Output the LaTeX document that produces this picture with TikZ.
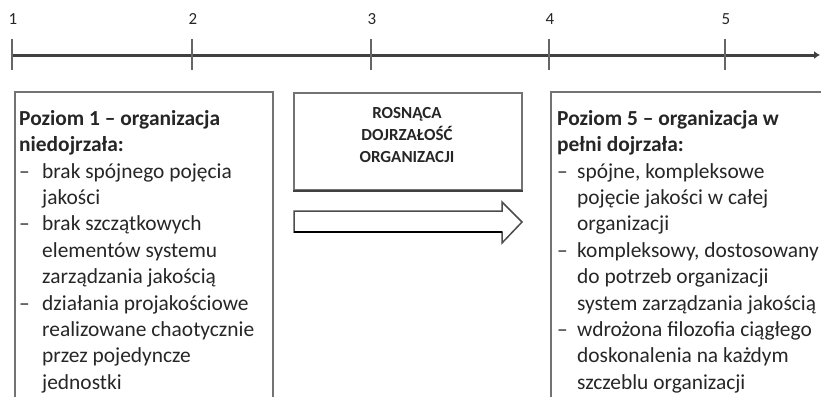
\documentclass[tikz,border=0pt]{standalone}
\usepackage{fontspec}
\setmainfont{Carlito}
\usetikzlibrary{arrows.meta}
\newcommand\ldsh{\makebox[23bp][l]{–}}
\newcommand\lind{\hspace*{23bp}}
\newcommand\rdsh{\makebox[20bp][l]{–}}
\newcommand\rind{\hspace*{20bp}}
\newcommand\hdr{\fontsize{21.5}{26.5}\selectfont\bfseries}
\tikzset{
  axisline/.style={line width=3bp, draw=black!75},
  tickline/.style={line width=1.5bp, draw=black!60},
  ticklabel/.style={font=\fontsize{17}{20}\selectfont, inner sep=0pt, text=black!85},
  boxline/.style={line width=2bp, draw=black!55},
  boxtext/.style={font=\fontsize{21.5}{26.5}\selectfont, align=left, inner sep=0pt, anchor=north west, text=black!85},
  midtext/.style={font=\bfseries\fontsize{17}{22}\selectfont, align=center, inner sep=0pt, text=black!85},
}
\begin{document}
\begin{tikzpicture}[x=1bp,y=-1bp]
\useasboundingbox (0,0) rectangle (821,396);
% timeline
\coordinate (tstart) at (12,55);
\coordinate (tend) at (820,55);
\draw[axisline, -{Latex[length=6bp,width=8bp]}] (tstart) -- (tend);
\foreach \i/\x in {1/12,2/192,3/371,4/549,5/725}{
  \coordinate (tt\i) at (\x,39);
  \coordinate (tb\i) at (\x,70);
  \draw[tickline] (tt\i) -- (tb\i);
  \node[ticklabel] (lab\i) at (\x+1,19) {\i};
}
% left box
\coordinate (l1) at (15,410);
\coordinate (l2) at (15,92);
\coordinate (l3) at (273,92);
\coordinate (l4) at (273,410);
\draw[boxline] (l1) -- (l2) -- (l3) -- (l4);
\node[boxtext] (ltext) at (19,110) {{\hdr Poziom 1 – organizacja}\\
{\hdr niedojrzała:}\\
\ldsh brak spójnego pojęcia\\
\lind jakości\\
\ldsh brak szczątkowych\\
\lind elementów systemu\\
\lind zarządzania jakością\\
\ldsh działania projakościowe\\
\lind realizowane chaotycznie\\
\lind przez pojedyncze\\
\lind jednostki};
% middle box
\node[boxline, draw, minimum width=228bp, minimum height=97bp, inner sep=0pt] (mbox) at (408,141.5) {};
\draw[line width=2bp, draw=black!75] (mbox.south west) -- (mbox.south east);
\node[midtext] (mtext) at (407,135) {ROSNĄCA\\DOJRZAŁOŚĆ\\ORGANIZACJI};
% block arrow
\coordinate (a1) at (294,211);
\coordinate (a2) at (502,211);
\coordinate (a3) at (502,202);
\coordinate (a4) at (522,222);
\coordinate (a5) at (502,243);
\coordinate (a6) at (502,232);
\coordinate (a7) at (294,232);
\draw[line width=1.5bp, draw=black!70, fill=white] (a1) -- (a2) -- (a3) -- (a4) -- (a5) -- (a6) -- (a7) -- cycle;
\draw[line width=2bp, draw=black] (a7) -- (a6);
% right box
\coordinate (r1) at (551,410);
\coordinate (r2) at (551,92);
\coordinate (r3) at (830,92);
\draw[boxline] (r1) -- (r2) -- (r3);
\node[boxtext] (rtext) at (557,110) {{\hdr Poziom 5 – organizacja w}\\
{\hdr pełni dojrzała:}\\
\rdsh spójne, kompleksowe\\
\rind pojęcie jakości w całej\\
\rind organizacji\\
\rdsh kompleksowy, dostosowany\\
\rind do potrzeb organizacji\\
\rind system zarządzania jakością\\
\rdsh wdrożona filozofia ciągłego\\
\rind doskonalenia na każdym\\
\rind szczeblu organizacji};
\end{tikzpicture}
\end{document}
